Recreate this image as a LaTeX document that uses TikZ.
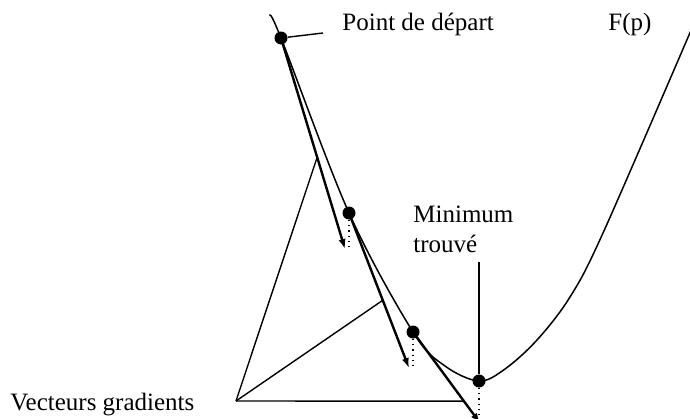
\documentclass[tikz,border=0pt]{standalone}
\usepackage{fontspec}
\setmainfont{Liberation Serif}
\usetikzlibrary{arrows.meta,calc}

\begin{document}
\begin{tikzpicture}[
  x=0.5pt,y=-0.5pt,
  font=\fontsize{12.5pt}{15pt}\selectfont,
  courbe/.style={line width=0.75pt},
  pointit/.style={circle,fill=black,inner sep=0pt,minimum size=6.5pt},
  grad/.style={-{Latex[length=5pt,width=3.6pt]},line width=1.2pt},
  proj/.style={dotted,line width=0.6pt},
  repere/.style={line width=0.7pt},
  texte/.style={inner sep=0pt,anchor=base west}
]
\useasboundingbox (0,0) rectangle (690,418);

% ---- courbe F(p) ----
\draw[courbe] plot[smooth,tension=0.55] coordinates {(270,16) (281,38) (349,213)
  (413,332) (445,366) (479,381) (505,369) (537,340) (570,297) (603,233) (692,28)};

% ---- points des iterations ----
\node[pointit] (p0) at (281,38) {};
\node[pointit] (p1) at (349,213) {};
\node[pointit] (p2) at (413,332) {};
\node[pointit] (p3) at (479,381) {};

% ---- vecteurs gradients ----
\coordinate (g0) at (345,249);
\coordinate (g1) at (409,368);
\coordinate (g2) at (480,423);
\draw[grad] (p0.center) -- (g0);
\draw[grad] (p1.center) -- (g1);
\draw[grad] (p2.center) -- (g2);
\draw[proj] (p1) -- (p1 |- g0);
\draw[proj] (p2) -- (p2 |- g1);
\draw[proj] (p3) -- (p3 |- g2);

% ---- etiquettes ----
\node[texte] (depart) at (342,30) {Point de départ};
\coordinate (fd) at (323,33);
\draw[repere] (p0) -- (fd);

\node[texte] (fp) at (608,30) {F(p)};

\node[texte] (mini) at (413,222) {Minimum};
\node[texte] (trouve) at (413,252) {trouvé};
\coordinate (fm) at (479,262);
\draw[repere] (fm) -- (p3);

\node[texte] (vg) at (10,410) {Vecteurs gradients};
\coordinate (sommet) at (236,401);
\draw[repere] (sommet) -- ($(p0)!0.565!(g0)$);
\draw[repere] (sommet) -- ($(p1)!0.563!(g1)$);
\draw[repere] (sommet) -- ($(p2)!0.76!(g2) + (0,0)$);

\end{tikzpicture}
\end{document}
